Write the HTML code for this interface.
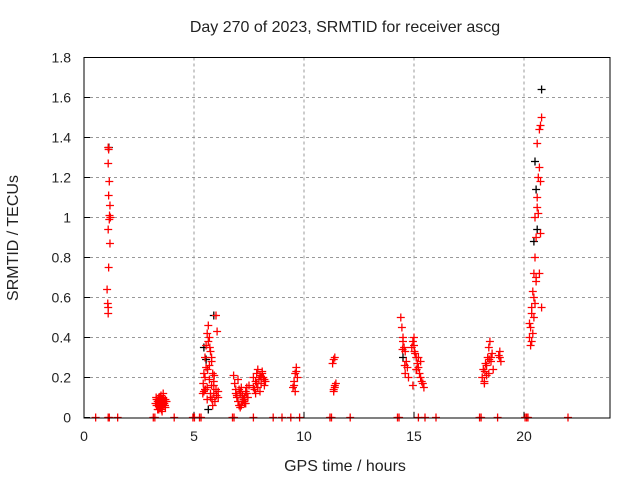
<!DOCTYPE html>
<html><head><meta charset="utf-8"><style>
body{margin:0;background:#fff;}
svg text{font-family:"Liberation Sans",sans-serif;font-size:14px;fill:#222;}
svg text.big{font-size:16px;}
</style></head><body>
<svg id="chart" width="640" height="480">
<text class="big" x="345" y="32" text-anchor="middle">Day 270 of 2023, SRMTID for receiver ascg</text>
<text class="big" x="345" y="471" text-anchor="middle">GPS time / hours</text>
<text class="big" x="18" y="238" text-anchor="middle" transform="rotate(-90 18 238)">SRMTID / TECUs</text>
<g id="grid"></g><g id="marks"></g>
<rect x="84" y="57.5" width="526" height="360.5" fill="none" stroke="#000" stroke-width="1"/>
</svg>
<script>
const xTicks=[0,5,10,15,20];
const yTicks=[0,0.2,0.4,0.6,0.8,1,1.2,1.4,1.6,1.8];
const yTickLabels=["0","0.2","0.4","0.6","0.8","1","1.2","1.4","1.6","1.8"];
const redTimes=[1.1,1.12,1.1,1.15,1.12,1.18,1.16,1.2,1.15,1.1,1.18,1.12,1.05,1.08,1.1,1.1,
3.3,3.35,3.4,3.45,3.5,3.55,3.6,3.65,3.7,3.4,3.5,3.6,3.3,3.45,3.55,3.65,3.35,3.5,3.6,3.4,3.7,3.55,3.45,3.5,3.25,3.75,3.38,3.48,3.58,3.68,3.28,3.42,3.52,3.62,
5.4,5.45,5.5,5.55,5.6,5.65,5.7,5.75,5.8,5.85,5.9,5.6,5.7,5.75,5.8,5.5,5.45,5.65,5.9,6.0,6.05,6.1,5.95,6.0,5.85,5.7,5.6,5.55,5.5,5.8,5.75,6.1,5.9,5.42,5.52,5.62,5.72,5.82,5.92,6.02,
6.8,6.85,6.9,6.95,7.0,7.05,7.1,7.15,7.2,7.25,7.3,7.35,7.4,7.45,7.5,7.0,7.1,7.2,7.3,6.9,7.05,7.15,7.25,7.35,6.95,7.12,7.28,7.4,
7.7,7.75,7.8,7.85,7.9,7.95,8.0,8.05,8.1,8.15,8.2,8.25,7.8,7.9,8.0,8.1,7.7,8.2,7.85,8.05,
9.5,9.55,9.6,9.65,9.7,9.6,9.55,9.65,
11.3,11.35,11.4,11.35,11.4,11.45,11.35,11.4,
14.4,14.45,14.5,14.55,14.6,14.65,14.7,14.75,14.5,14.6,14.9,14.95,15.0,15.05,15.1,15.15,15.2,15.25,15.3,15.35,15.4,15.45,15.0,15.1,15.2,14.95,15.3,14.48,14.58,15.02,15.12,
18.1,18.15,18.2,18.25,18.3,18.35,18.4,18.45,18.5,18.55,18.6,18.2,18.3,18.4,18.5,18.85,18.9,18.95,18.9,18.22,18.42,
20.25,20.3,20.35,20.4,20.45,20.5,20.55,20.5,20.6,20.65,20.7,20.75,20.8,20.6,20.7,20.75,20.65,20.55,20.5,20.45,20.4,20.35,20.3,20.25,20.7,20.8,20.75,20.6,20.55,20.45,20.35,
0.53,1.1,1.15,1.53,3.15,3.22,4.1,4.95,5.02,5.25,5.32,6.75,6.82,7.7,8.6,9.0,9.4,9.8,11.18,11.25,12.1,14.25,14.32,15.2,15.5,16.0,17.98,18.05,18.8,20.05,20.12,20.18,22.0];
const redValues=[1.35,1.34,1.27,1.18,1.11,1.06,1.01,1.0,0.99,0.94,0.87,0.75,0.64,0.57,0.55,0.52,
0.06,0.08,0.1,0.05,0.07,0.09,0.06,0.08,0.05,0.04,0.11,0.1,0.09,0.06,0.03,0.07,0.04,0.08,0.12,0.07,0.09,0.05,0.1,0.06,0.07,0.08,0.09,0.05,0.07,0.06,0.1,0.08,0.04,0.09,
0.12,0.22,0.3,0.36,0.42,0.46,0.4,0.33,0.28,0.22,0.18,0.15,0.26,0.1,0.16,0.2,0.13,0.38,0.12,0.51,0.43,0.1,0.08,0.14,0.06,0.19,0.09,0.25,0.14,0.3,0.12,0.13,0.16,0.17,0.14,0.24,0.35,0.09,0.21,0.11,
0.21,0.17,0.14,0.1,0.08,0.06,0.12,0.15,0.11,0.09,0.07,0.13,0.12,0.1,0.16,0.19,0.05,0.08,0.1,0.12,0.14,0.06,0.09,0.07,0.11,0.13,0.08,0.15,
0.2,0.14,0.18,0.22,0.15,0.19,0.21,0.17,0.23,0.2,0.16,0.18,0.12,0.24,0.13,0.22,0.15,0.19,0.17,0.2,
0.15,0.18,0.22,0.25,0.2,0.13,0.16,0.23,
0.27,0.29,0.3,0.13,0.15,0.17,0.14,0.16,
0.5,0.45,0.4,0.35,0.33,0.28,0.25,0.2,0.38,0.22,0.35,0.38,0.4,0.32,0.3,0.27,0.25,0.22,0.2,0.18,0.17,0.15,0.36,0.24,0.3,0.16,0.28,0.34,0.26,0.33,0.24,
0.2,0.24,0.18,0.27,0.21,0.3,0.35,0.38,0.28,0.32,0.24,0.17,0.26,0.22,0.3,0.31,0.3,0.28,0.33,0.23,0.29,
0.4,0.45,0.55,0.63,0.72,0.8,0.9,1.0,1.1,1.2,1.25,1.46,1.5,1.37,1.44,0.92,1.02,0.7,0.57,0.5,0.42,0.38,0.36,0.47,0.72,0.55,1.18,1.05,0.68,0.6,0.52,
0,0,0,0,0,0,0,0,0,0,0,0,0,0,0,0,0,0,0,0,0,0,0,0,0,0,0,0,0,0,0,0,0];
const blackTimes=[1.13,5.45,5.65,5.9,5.55,20.5,20.6,20.8,20.55,20.45,14.5,7.2];
const blackValues=[1.35,0.35,0.04,0.51,0.29,1.28,0.94,1.64,1.14,0.88,0.3,0.1];
const X=h=>84+h*22, Y=v=>417.5-v*200;
const NS="http://www.w3.org/2000/svg";
const g=document.getElementById('grid'), m=document.getElementById('marks');
function mk(tag,a,p){const e=document.createElementNS(NS,tag);for(const k in a)e.setAttribute(k,a[k]);p.appendChild(e);return e;}
xTicks.forEach(t=>{
 if(t>0){const l=mk('line',{x1:X(t),x2:X(t),y1:57.5,y2:418,stroke:'#999','stroke-dasharray':'3,3'},g);
 
 }
 const tk=mk('line',{x1:X(t),x2:X(t),y1:418,y2:412,stroke:'#000'},g);
 
 
 const tx=mk('text',{x:X(t),y:441,'text-anchor':'middle'},g);tx.textContent=t;
 
 
});
yTicks.forEach((t,i)=>{
 if(t>0&&t<1.8){const l=mk('line',{x1:84,x2:610,y1:Y(t),y2:Y(t),stroke:'#999','stroke-dasharray':'3,3'},g);
 
 }
 const tk=mk('line',{x1:84,x2:90,y1:Y(t),y2:Y(t),stroke:'#000'},g);
 
 
 const tx=mk('text',{x:71,y:Y(t)+5,'text-anchor':'end'},g);tx.textContent=yTickLabels[i];
 
 
});
function plus(h,v,c){const x=X(h),y=Y(v);
 const p=mk('path',{d:`M${x-4},${y}h8M${x},${y-4}v8`,stroke:c,'stroke-width':1.3,fill:'none'},m);
 
 }
blackTimes.forEach((h,i)=>plus(h,blackValues[i],'#000'));
redTimes.forEach((h,i)=>plus(h,redValues[i],'#f00'));
</script>
</body></html>
